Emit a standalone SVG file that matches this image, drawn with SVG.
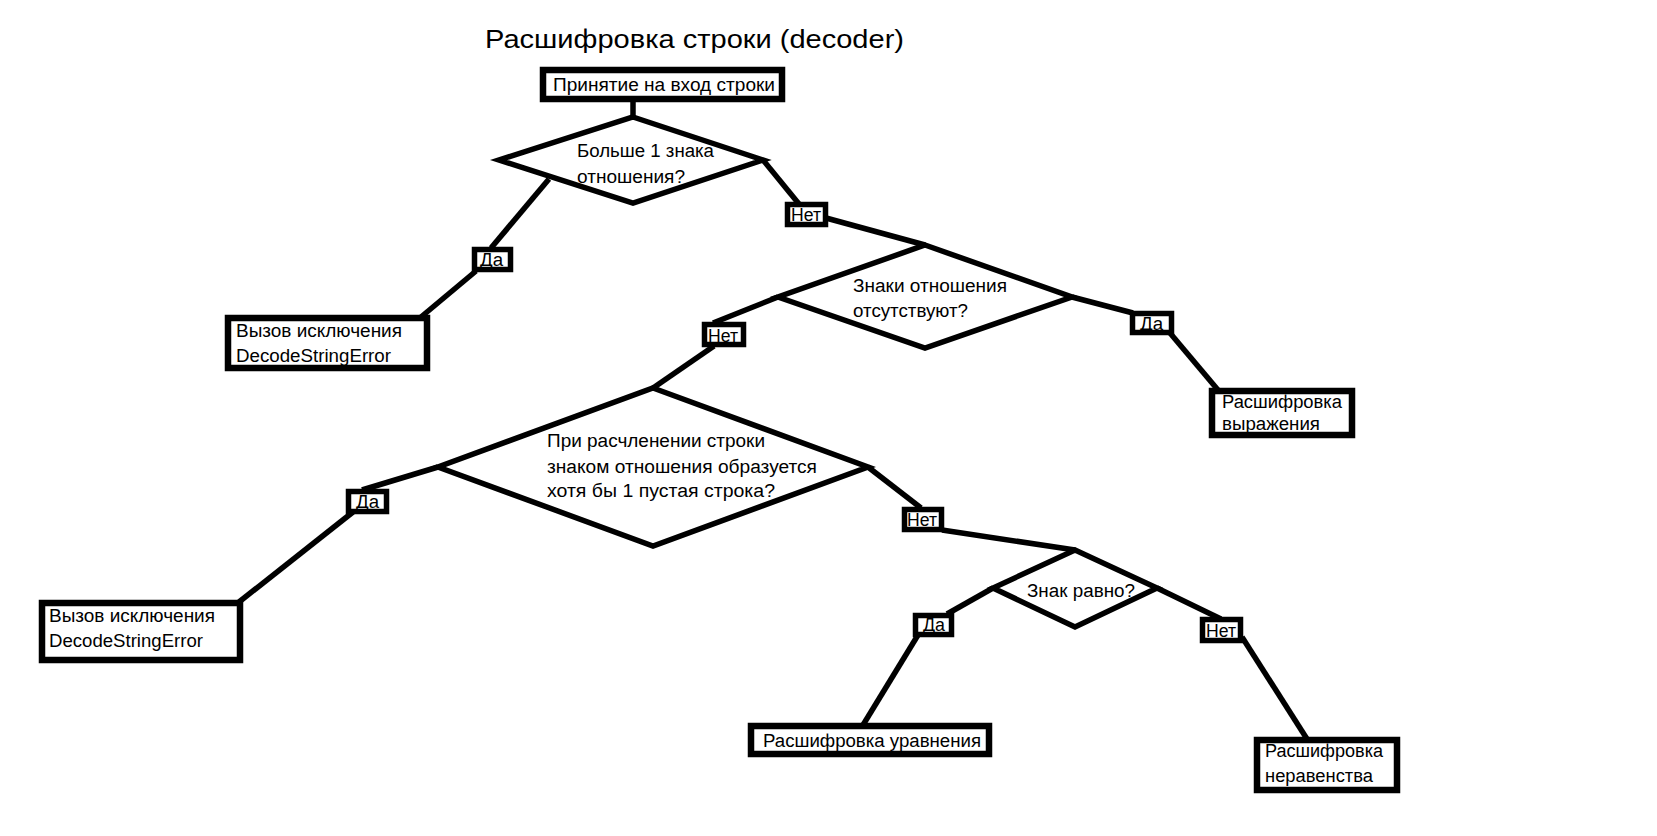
<svg xmlns="http://www.w3.org/2000/svg" width="1657" height="836" viewBox="0 0 1657 836">
<style>
.box{fill:#fff;stroke:#000;stroke-width:6.5}
.dia{fill:#fff;stroke:#000;stroke-width:5.5;stroke-linejoin:miter}
.lbl{fill:#fff;stroke:#000;stroke-width:5.5}
.con{stroke:#000;stroke-width:5.5;fill:none}
text{font-family:"Liberation Sans",Arial,sans-serif;font-size:18px;fill:#000}
.title{font-size:25px}
</style>
<rect width="1657" height="836" fill="#fff"/>
<text class="title" x="485" y="48" textLength="419" lengthAdjust="spacingAndGlyphs">Расшифровка строки (decoder)</text>
<g id="connectors">
<line class="con" x1="633" y1="100" x2="633" y2="118"/>
<line class="con" x1="549" y1="179" x2="491" y2="248"/>
<line class="con" x1="476" y1="271" x2="421" y2="317"/>
<line class="con" x1="763" y1="160" x2="799" y2="204"/>
<line class="con" x1="826" y1="218" x2="925" y2="245"/>
<line class="con" x1="778" y1="297" x2="713" y2="323"/>
<line class="con" x1="1072" y1="297" x2="1133" y2="313"/>
<line class="con" x1="1170" y1="333" x2="1218" y2="390"/>
<line class="con" x1="714" y1="346" x2="653" y2="388"/>
<line class="con" x1="438" y1="467" x2="362" y2="490"/>
<line class="con" x1="353" y1="512" x2="239" y2="602"/>
<line class="con" x1="868" y1="467" x2="921" y2="508"/>
<line class="con" x1="942" y1="530" x2="1075" y2="550"/>
<line class="con" x1="993" y1="588" x2="947" y2="614"/>
<line class="con" x1="918" y1="635" x2="863" y2="725"/>
<line class="con" x1="1157" y1="588" x2="1221" y2="619"/>
<line class="con" x1="1242" y1="637" x2="1307" y2="739"/>
</g>
<g id="start">
<rect class="box" x="543" y="70" width="239" height="29"/>
<text x="553" y="91" textLength="222" lengthAdjust="spacingAndGlyphs">Принятие на вход строки</text>
</g>
<g id="d1">
<polygon class="dia" points="633,117 763,160 633,203 499,160"/>
<text x="577" y="157" textLength="137" lengthAdjust="spacingAndGlyphs">Больше 1 знака</text>
<text x="577" y="183" textLength="108" lengthAdjust="spacingAndGlyphs">отношения?</text>
</g>
<g id="err1">
<rect class="box" x="228" y="318" width="199" height="50"/>
<text x="236" y="337" textLength="166" lengthAdjust="spacingAndGlyphs">Вызов исключения</text>
<text x="236" y="362" textLength="155" lengthAdjust="spacingAndGlyphs">DecodeStringError</text>
</g>
<g id="d2">
<polygon class="dia" points="925,245 1072,297 925,348 778,297"/>
<text x="853" y="292" textLength="154" lengthAdjust="spacingAndGlyphs">Знаки отношения</text>
<text x="853" y="317" textLength="115" lengthAdjust="spacingAndGlyphs">отсутствуют?</text>
</g>
<g id="expr">
<rect class="box" x="1212" y="391" width="140" height="44"/>
<text x="1222" y="408" textLength="120" lengthAdjust="spacingAndGlyphs">Расшифровка</text>
<text x="1222" y="430" textLength="98" lengthAdjust="spacingAndGlyphs">выражения</text>
</g>
<g id="d3">
<polygon class="dia" points="653,388 868,467 653,546 438,467"/>
<text x="547" y="447" textLength="218" lengthAdjust="spacingAndGlyphs">При расчленении строки</text>
<text x="547" y="473" textLength="270" lengthAdjust="spacingAndGlyphs">знаком отношения образуется</text>
<text x="547" y="497" textLength="228" lengthAdjust="spacingAndGlyphs">хотя бы 1 пустая строка?</text>
</g>
<g id="err2">
<rect class="box" x="42" y="603" width="198" height="57"/>
<text x="49" y="622" textLength="166" lengthAdjust="spacingAndGlyphs">Вызов исключения</text>
<text x="49" y="647" textLength="154" lengthAdjust="spacingAndGlyphs">DecodeStringError</text>
</g>
<g id="d4">
<polygon class="dia" points="1075,550 1157,588 1075,627 993,588"/>
<text x="1027" y="597" textLength="108" lengthAdjust="spacingAndGlyphs">Знак равно?</text>
</g>
<g id="eq">
<rect class="box" x="751" y="726" width="238" height="28"/>
<text x="763" y="747" textLength="218" lengthAdjust="spacingAndGlyphs">Расшифровка уравнения</text>
</g>
<g id="ineq">
<rect class="box" x="1257" y="740" width="140" height="50"/>
<text x="1265" y="757" textLength="118" lengthAdjust="spacingAndGlyphs">Расшифровка</text>
<text x="1265" y="782" textLength="108" lengthAdjust="spacingAndGlyphs">неравенства</text>
</g>
<g id="labels">
<g id="l-da1"><rect class="lbl" x="474.5" y="249.5" width="36" height="20"/><text x="480" y="266" textLength="23" lengthAdjust="spacingAndGlyphs">Да</text></g>
<g id="l-net1"><rect class="lbl" x="787.5" y="204.5" width="38" height="20"/><text x="791" y="221" textLength="30" lengthAdjust="spacingAndGlyphs">Нет</text></g>
<g id="l-net2"><rect class="lbl" x="704.5" y="324.5" width="39" height="20"/><text x="708" y="342" textLength="30" lengthAdjust="spacingAndGlyphs">Нет</text></g>
<g id="l-da2"><rect class="lbl" x="1132.5" y="313.5" width="39" height="19"/><text x="1140" y="330" textLength="23" lengthAdjust="spacingAndGlyphs">Да</text></g>
<g id="l-da3"><rect class="lbl" x="348.5" y="491.5" width="38" height="20"/><text x="356" y="508" textLength="23" lengthAdjust="spacingAndGlyphs">Да</text></g>
<g id="l-net3"><rect class="lbl" x="904.5" y="509.5" width="37" height="20"/><text x="907" y="526" textLength="30" lengthAdjust="spacingAndGlyphs">Нет</text></g>
<g id="l-da4"><rect class="lbl" x="915.5" y="615.5" width="36" height="19"/><text x="923" y="631" textLength="22" lengthAdjust="spacingAndGlyphs">Да</text></g>
<g id="l-net4"><rect class="lbl" x="1202.5" y="619.5" width="38" height="21"/><text x="1206" y="637" textLength="30" lengthAdjust="spacingAndGlyphs">Нет</text></g>
</g>
</svg>
